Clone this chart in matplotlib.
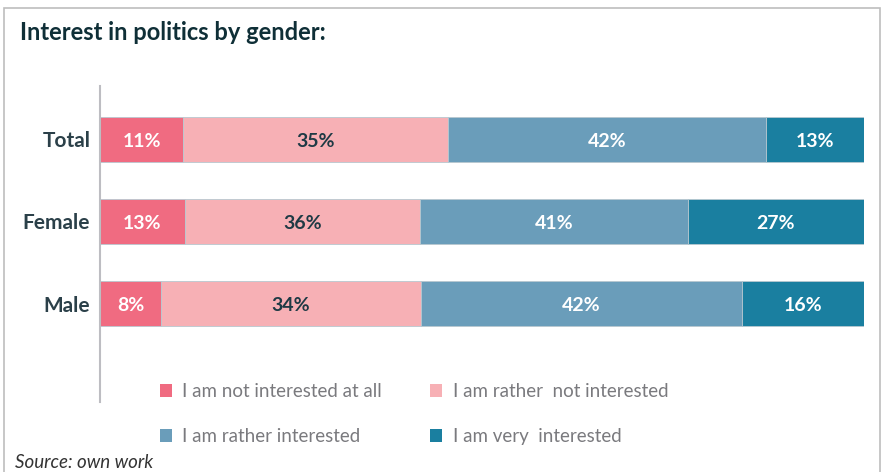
import numpy as np
import matplotlib.pyplot as plt
from matplotlib.patches import Patch, Rectangle

plt.rcParams['font.family'] = ['Lato', 'DejaVu Sans']

# Survey shares (%) per group, top row first
groups = ["Total", "Female", "Male"]
answers = ["I am not interested at all", "I am rather  not interested",
           "I am rather interested", "I am very  interested"]
not_at_all = [11, 13, 8]
rather_not = [35, 36, 34]
rather_yes = [42, 41, 42]
very = [13, 27, 16]

colors = ["#F06B81", "#F7B0B5", "#6A9DBA", "#1A7FA0"]
label_colors = ["white", "#1F3A45", "white", "white"]

series = np.array([not_at_all, rather_not, rather_yes, very], dtype=float)
shares = series / series.sum(axis=0) * 100  # 100% stacked rows

fig = plt.figure(figsize=(8.81, 4.72), dpi=100)
ax = fig.add_axes([100 / 881, 70 / 472, 764 / 881, 316 / 472])

ypos = np.arange(len(groups))[::-1]
left = np.zeros(len(groups))
for i in range(len(answers)):
    ax.barh(ypos, shares[i], left=left, height=0.55, color=colors[i],
            edgecolor="#B8C8D0", linewidth=0.6, label=answers[i])
    for y, l, w, v in zip(ypos, left, shares[i], series[i]):
        ax.text(l + w / 2, y - 0.03, f"{v:.0f}%", ha="center", va="center",
                color=label_colors[i], fontsize=14, fontweight="bold")
    left += shares[i]

ax.set_xlim(0, 100)
ax.set_ylim(-1.2, 2.65)
ax.set_yticks(ypos)
ax.set_yticklabels(groups, fontsize=15, fontweight="bold", color="#2B4049")
ax.tick_params(axis="y", length=0, pad=7)
ax.set_xticks([])
for s in ["top", "right", "bottom"]:
    ax.spines[s].set_visible(False)
ax.spines["left"].set_color("#BDBDC2")
ax.spines["left"].set_linewidth(1.5)

# legend filled column by column, so order it to read across rows
order = [0, 2, 1, 3]
handles = [Patch(facecolor=colors[k]) for k in order]
labels = [answers[k] for k in order]
fig.legend(handles, labels, ncol=2, loc="upper left",
           bbox_to_anchor=(160 / 881, 1 - 383 / 472), frameon=False,
           fontsize=13.5, labelcolor="#7A7A7E", handlelength=0.65,
           handleheight=0.65, handletextpad=0.55, labelspacing=1.5,
           columnspacing=2.55, borderaxespad=0, borderpad=0)

fig.text(20 / 881, 1 - 33 / 472, "Interest in politics by gender:",
         fontsize=17, fontweight="bold", color="#0F2F37", va="center")
fig.text(15 / 881, 1 - 463 / 472, "Source: own work", fontsize=13.5,
         style="italic", color="#333333", va="center")

# thin grey frame round the panel, open at the bottom
fig.add_artist(Rectangle((4 / 881, -0.1), 876 / 881, 1.1 - 8 / 472,
                         transform=fig.transFigure, fill=False,
                         edgecolor="#BEBEBE", linewidth=1.2))

fig.savefig("out.png", dpi=100)
